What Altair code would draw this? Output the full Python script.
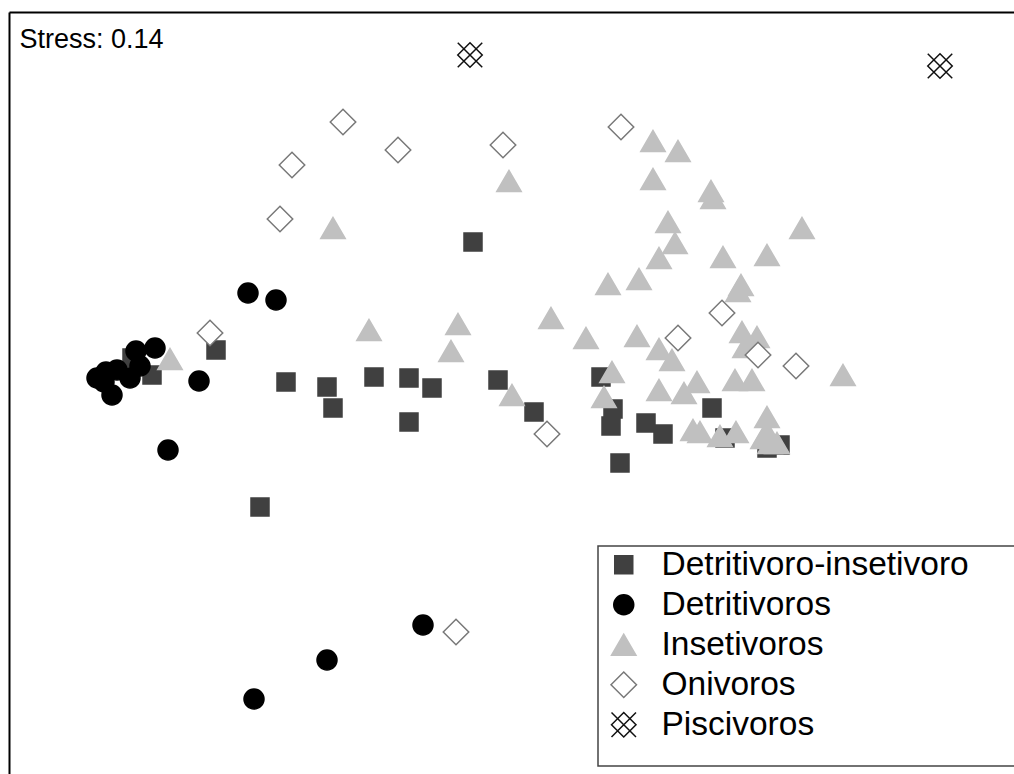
import altair as alt
import pandas as pd

STRESS_LABEL = "Stress: 0.14"
groups = ["Detritivoro-insetivoro", "Detritivoros", "Insetivoros", "Onivoros", "Piscivoros"]

# point positions (x to the right, y downward)
di_x = [132, 152, 216, 286, 327, 333, 260, 374, 409, 432, 409, 473, 498, 534, 601, 613, 611, 646, 663, 620, 712, 725, 767, 780]
di_y = [358, 375, 350, 382, 387, 408, 507, 377, 378, 388, 422, 242, 380, 412, 377, 409, 426, 423, 434, 463, 408, 438, 448, 445]

de_x = [97, 104, 112, 117, 130, 136, 140, 155, 106, 248, 276, 199, 168, 254, 327, 423]
de_y = [378, 382, 395, 370, 378, 351, 366, 348, 372, 293, 300, 381, 450, 699, 660, 625]

in_x = [653, 678, 653, 509, 711, 713, 333, 802, 668, 675, 659, 723, 767, 639, 608, 741, 738,
        369, 458, 451, 551, 586, 637, 659, 672, 742, 757, 745, 612, 604, 659, 684, 697, 735,
        752, 843, 512, 693, 700, 720, 736, 767, 767, 763, 777, 770, 170]
in_y = [141, 151, 179, 181, 191, 198, 228, 228, 222, 243, 258, 257, 255, 279, 284, 285, 291,
        330, 324, 351, 318, 338, 336, 349, 360, 332, 337, 347, 372, 397, 390, 393, 382, 380,
        380, 375, 395, 430, 432, 436, 432, 417, 432, 438, 443, 443, 359]

on_x = [343, 292, 398, 503, 621, 280, 210, 678, 722, 758, 796, 547, 456]
on_y = [122, 165, 150, 145, 127, 219, 333, 338, 313, 355, 366, 434, 632]

pi_x = [470, 940]
pi_y = [55, 66]

PISC_PATH = "M-1,-1L1,1M-1,1L1,-1M-1,0L0,-1L1,0L0,1Z"
shapes = ["square", "circle", "triangle-up", "diamond", PISC_PATH]
fills = ["#404040", "#000000", "#c0c0c0", "#ffffff", "transparent"]
strokes = ["#404040", "#000000", "#c0c0c0", "#787878", "#111111"]
sizes = [324, 400, 600, 650, 600]

rows = []
for g, xs, ys in zip(groups, [di_x, de_x, in_x, on_x, pi_x], [di_y, de_y, in_y, on_y, pi_y]):
    for x, y in zip(xs, ys):
        rows.append({"group": g, "x": x, "y": y})
df = pd.DataFrame(rows)

# invisible spacer title that widens the legend box toward the right edge
LEG_TITLE = "_" * 41


def leg():
    return alt.Legend(title=LEG_TITLE, orient="none", legendX=589, legendY=534)


frame_axis_x = alt.Axis(orient="top", domain=True, domainColor="black", domainWidth=2,
                        ticks=False, labels=False, grid=False)
frame_axis_y = alt.Axis(orient="left", domain=True, domainColor="black", domainWidth=2,
                        ticks=False, labels=False, grid=False)

pts = alt.Chart(df).mark_point(opacity=1, strokeWidth=1.5).encode(
    x=alt.X("x:Q", scale=alt.Scale(domain=[9, 1014], nice=False, zero=False), axis=frame_axis_x, title=None),
    y=alt.Y("y:Q", scale=alt.Scale(domain=[12, 774], nice=False, zero=False, reverse=True), axis=frame_axis_y, title=None),
    shape=alt.Shape("group:N", scale=alt.Scale(domain=groups, range=shapes), legend=leg()),
    fill=alt.Fill("group:N", scale=alt.Scale(domain=groups, range=fills), legend=leg()),
    stroke=alt.Stroke("group:N", scale=alt.Scale(domain=groups, range=strokes), legend=leg()),
    size=alt.Size("group:N", scale=alt.Scale(type="ordinal", domain=groups, range=sizes), legend=leg()),
)

stress = alt.Chart(pd.DataFrame({"label": [STRESS_LABEL]})).mark_text(
    align="left", baseline="alphabetic", fontSize=27, font="Liberation Sans", color="black"
).encode(x=alt.value(10.5), y=alt.value(35.5), text="label:N")

chart = alt.layer(pts, stress).properties(
    width=1005, height=762,
    autosize=alt.AutoSizeParams(type="none"),
    padding={"left": 9, "top": 12, "right": 0, "bottom": 0},
    background="white",
).configure_view(stroke=None).configure_legend(
    labelFont="Liberation Sans", labelFontSize=33.5, labelColor="black", labelLimit=1000,
    labelOffset=21, symbolOffset=7, padding=2, rowPadding=5,
    strokeColor="#444444", strokeWidth=1.5, fillColor="white",
    titleOrient="bottom", titleFontSize=18.1, titlePadding=4, titleLimit=2000,
    titleFont="Liberation Sans", titleColor="white", symbolStrokeWidth=1.5, symbolOpacity=1,
)

chart.save("out.html", embed_options={"renderer": "svg", "actions": False})
